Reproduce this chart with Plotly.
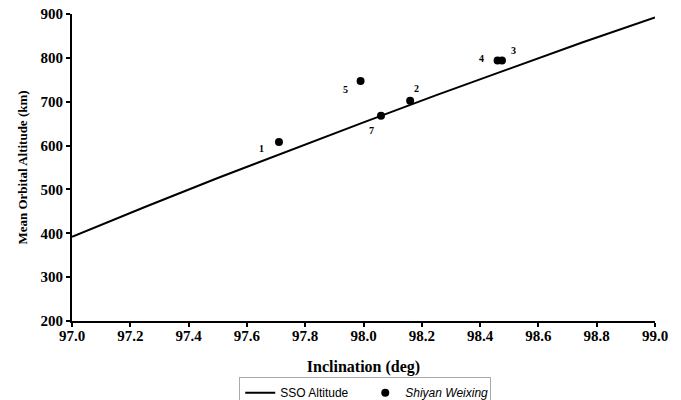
import plotly.graph_objects as go

# SSO altitude curve
sso_incl = [97.0, 97.25, 97.5, 97.75, 98.0, 98.25, 98.5, 98.75, 99.0]
sso_alt = [392, 460, 526, 590, 653, 715, 775, 835, 892]

# Shiyan Weixing satellites
sat_ids = ["1", "2", "3", "4", "5", "7"]
sat_incl = [97.71, 98.16, 98.475, 98.46, 97.99, 98.06]
sat_alt = [608, 702, 794, 794, 747, 668]

# label offsets (pixels) for annotation placement
label_dx = [-17, 6, 12, -16, -15, -9]
label_dy = [-6, 12, 10, 2, -8, -15]

x_ticks = [97.0, 97.2, 97.4, 97.6, 97.8, 98.0, 98.2, 98.4, 98.6, 98.8, 99.0]
y_ticks = [200, 300, 400, 500, 600, 700, 800, 900]

fig = go.Figure()
fig.add_trace(go.Scatter(x=sso_incl, y=sso_alt, mode="lines", name="SSO Altitude",
                         line=dict(color="black", width=2)))
fig.add_trace(go.Scatter(x=sat_incl, y=sat_alt, mode="markers", name="<i>Shiyan Weixing</i>",
                         marker=dict(color="black", size=8)))

for sid, xi, yi, dx, dy in zip(sat_ids, sat_incl, sat_alt, label_dx, label_dy):
    fig.add_annotation(x=xi, y=yi, text=f"<b>{sid}</b>", showarrow=False, xshift=dx, yshift=dy,
                       font=dict(family="Liberation Serif", size=10, color="black"))

serif_bold = dict(family="Liberation Serif", color="black")
fig.update_layout(
    width=681, height=400,
    font=dict(family="Liberation Serif", color="black"),
    margin=dict(l=72, r=26, t=14, b=79, autoexpand=False),
    plot_bgcolor="white", paper_bgcolor="white",
    showlegend=True,
    legend=dict(orientation="h", x=0.503, xanchor="center", y=-0.183, yanchor="top",
                bordercolor="#aaaaaa", borderwidth=1,
                font=dict(family="Liberation Sans", size=12, color="black"),
                entrywidth=80, tracegroupgap=0),
    xaxis=dict(range=[97.0, 99.0], tickvals=x_ticks, ticktext=[f"<b>{v:.1f}</b>" for v in x_ticks],
               showgrid=False, zeroline=False, showline=True, linecolor="black", linewidth=2,
               ticks="outside", ticklen=4, tickwidth=2, tickcolor="black", ticklabelstandoff=-4,
               tickfont=dict(size=15, **serif_bold),
               title=dict(text="<b>Inclination (deg)</b>", font=dict(size=16, **serif_bold), standoff=18)),
    yaxis=dict(range=[200, 900], tickvals=y_ticks, ticktext=[f"<b>{v}</b>" for v in y_ticks],
               showgrid=False, zeroline=False, showline=True, linecolor="black", linewidth=2,
               ticks="outside", ticklen=4, tickwidth=2, tickcolor="black",
               tickfont=dict(size=15, **serif_bold),
               title=dict(text="<b>Mean Orbital Altitude (km)</b>", font=dict(size=13, **serif_bold), standoff=10)),
)

fig.write_html("out.html")
